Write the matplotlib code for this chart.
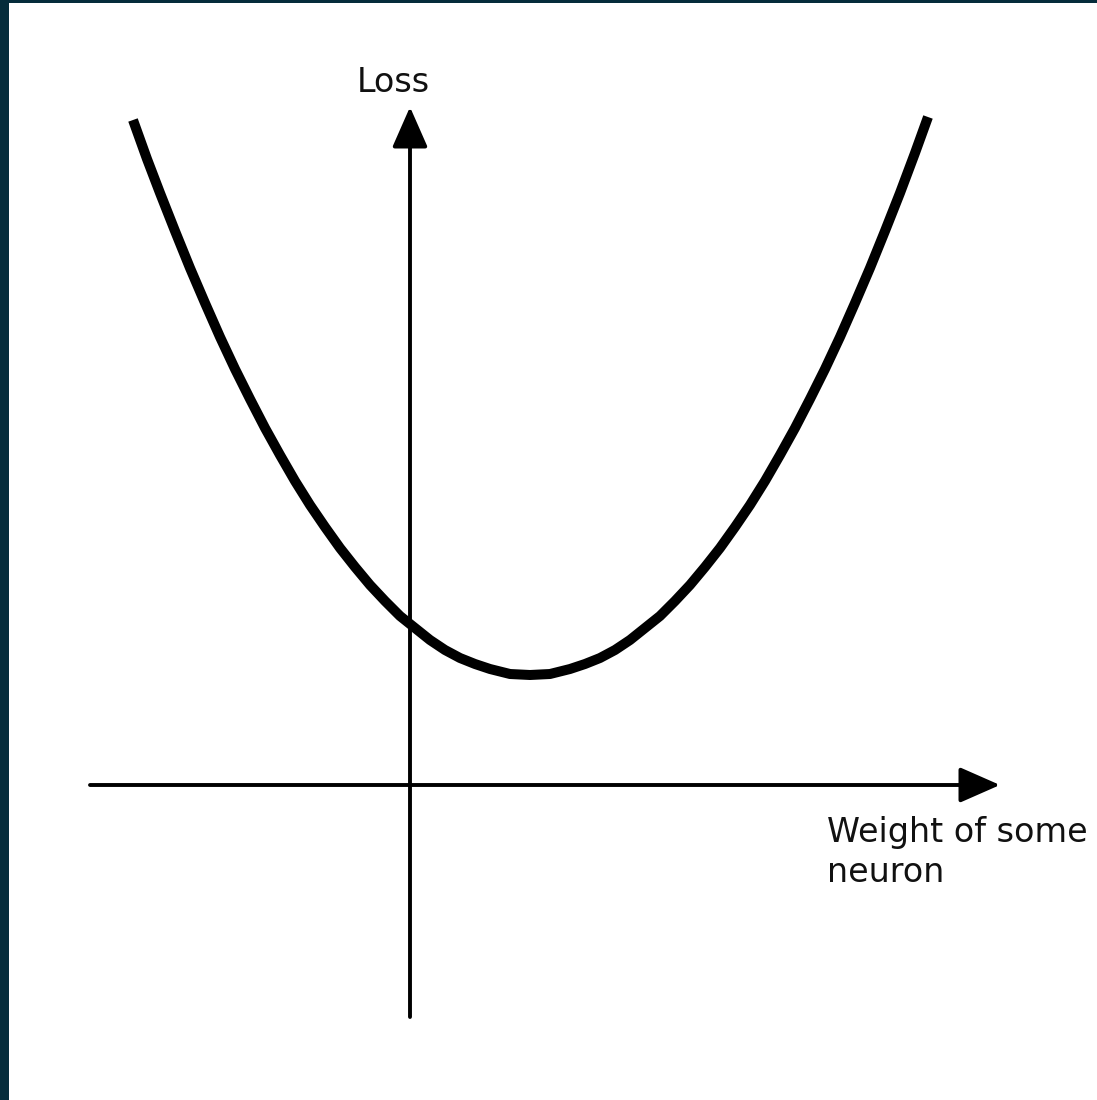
import matplotlib
matplotlib.use('Agg')
import matplotlib.pyplot as plt

# curve points (weight, loss), axis cross at (0, 0)
weight = [-2.77, -2.63, -2.50, -2.35, -2.20, -2.05, -1.90, -1.75, -1.60, -1.45,
          -1.30, -1.15, -1.00, -0.85, -0.70, -0.55, -0.40, -0.25, -0.10, 0.05,
          0.20, 0.35, 0.50, 0.65, 0.80, 1.00, 1.20, 1.40, 1.60, 1.75,
          1.90, 2.05, 2.20, 2.35, 2.50, 2.65, 2.80, 2.95, 3.10, 3.25,
          3.40, 3.55, 3.70, 3.85, 4.00, 4.15, 4.30, 4.45, 4.60, 4.75,
          4.90, 5.05, 5.18]
loss = [6.65, 6.26, 5.92, 5.54, 5.17, 4.82, 4.48, 4.16, 3.86, 3.57,
        3.30, 3.04, 2.80, 2.58, 2.37, 2.18, 2.00, 1.84, 1.69, 1.57,
        1.45, 1.35, 1.27, 1.21, 1.16, 1.11, 1.10, 1.11, 1.16, 1.21,
        1.27, 1.35, 1.45, 1.57, 1.69, 1.84, 2.00, 2.18, 2.37, 2.58,
        2.80, 3.04, 3.30, 3.57, 3.86, 4.16, 4.48, 4.82, 5.17, 5.54,
        5.92, 6.32, 6.68]

x_axis = (-3.20, 5.90)
y_axis = (-2.32, 6.78)

W, H = 1097, 1100
fig = plt.figure(figsize=(W / 100, H / 100), dpi=100, facecolor='#052c3b')
ax = fig.add_axes([9 / W, 0, 1 - 9 / W, 1 - 3 / H])
ax.set_facecolor('white')
ax.set_xlim((9 - 410) / 100, (W - 410) / 100)
ax.set_ylim((785 - H) / 100, (785 - 3) / 100)
for s in ax.spines.values():
    s.set_visible(False)
ax.set_xticks([])
ax.set_yticks([])

arrow = dict(arrowstyle='-|>,head_length=2.5,head_width=1.1', color='black',
             lw=2.8, mutation_scale=10, shrinkA=0, shrinkB=0)
ax.annotate('', xy=(x_axis[1], 0), xytext=(x_axis[0], 0), arrowprops=arrow)
ax.annotate('', xy=(0, y_axis[1]), xytext=(0, y_axis[0]), arrowprops=arrow)

ax.plot(weight, loss, color='black', lw=7.2, solid_joinstyle='round',
        solid_capstyle='butt')

ax.text(-0.53, 6.93, 'Loss', fontsize=24, ha='left', va='baseline',
        color='#111111')
ax.text(4.17, -0.97, 'Weight of some\nneuron', fontsize=24, ha='left',
        va='baseline', linespacing=1.28, color='#111111')

fig.savefig('out.png', dpi=100, facecolor=fig.get_facecolor())
